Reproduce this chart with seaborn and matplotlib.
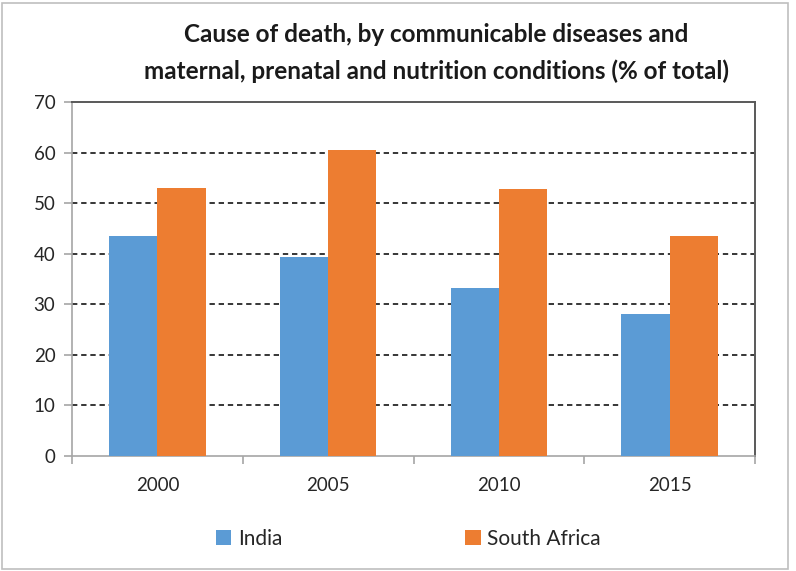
import pandas as pd
import seaborn as sns
import matplotlib.pyplot as plt
from matplotlib.patches import Rectangle

# ----------------------------
# Data
# ----------------------------
years = ["2000", "2005", "2010", "2015"]
india = [43.6, 39.4, 33.3, 28.1]
south_africa = [53.1, 60.5, 52.8, 43.6]
countries = ["India", "South Africa"]
colors = ["#5B9BD5", "#ED7D31"]

df = pd.DataFrame({
    "year": years * 2,
    "value": india + south_africa,
    "country": [countries[0]] * len(years) + [countries[1]] * len(years),
})

# ----------------------------
# Plot
# ----------------------------
sns.set_style("white")
plt.rcParams["font.family"] = ["Lato", "DejaVu Sans"]

fig = plt.figure(figsize=(7.96, 5.71), dpi=100)
ax = fig.add_axes([0.0905, 0.202, 0.858, 0.6188])

sns.barplot(data=df, x="year", y="value", hue="country", palette=colors,
            width=0.565, gap=0, saturation=1, linewidth=0, ax=ax, zorder=3)

ax.set_ylim(0, 70)
ax.set_xlim(-0.5, 3.5)
ax.set_yticks(range(0, 71, 10))
for y in range(10, 70, 10):
    ax.axhline(y, color="black", linestyle=(0, (3.5, 2.5)), linewidth=1.1, zorder=1)

ax.set_xlabel("")
ax.set_ylabel("")

# spines: light axes on left/bottom, dark frame top/right
for s in ["left", "bottom"]:
    ax.spines[s].set_color("#a6a6a6")
    ax.spines[s].set_linewidth(1.2)
for s in ["top", "right"]:
    ax.spines[s].set_color("#595959")
    ax.spines[s].set_linewidth(1.4)

ax.tick_params(axis="y", left=True, length=6, color="#a6a6a6", width=1.2,
               labelsize=13.5, labelcolor="#262626", pad=6)
ax.tick_params(axis="x", which="major", bottom=False, labelsize=13.5,
               labelcolor="#262626", pad=12)
ax.set_xticks([-0.5, 0.5, 1.5, 2.5, 3.5], minor=True)
ax.tick_params(axis="x", which="minor", bottom=True, length=6,
               color="#a6a6a6", width=1.2)

fig.text(0.548, 0.907,
         "Cause of death, by communicable diseases and\n"
         "maternal, prenatal and nutrition conditions (% of total)",
         ha="center", va="center", fontsize=17.5, fontweight="bold",
         linespacing=1.68, color="#1a1a1a")

handles, labels = ax.get_legend_handles_labels()
ax.legend_.remove()
fig.legend(handles, labels, loc="center", bbox_to_anchor=(0.513, 0.056),
           ncol=2, frameon=False, fontsize=15, handlelength=0.75,
           handleheight=0.75, handletextpad=0.3, columnspacing=8.8,
           labelcolor="#262626")

# outer chart border
fig.patches.append(Rectangle((0.003, 0.004), 0.987, 0.99, transform=fig.transFigure,
                             fill=False, edgecolor="#bfbfbf", linewidth=1.2))

plt.savefig("out.png", dpi=100)
